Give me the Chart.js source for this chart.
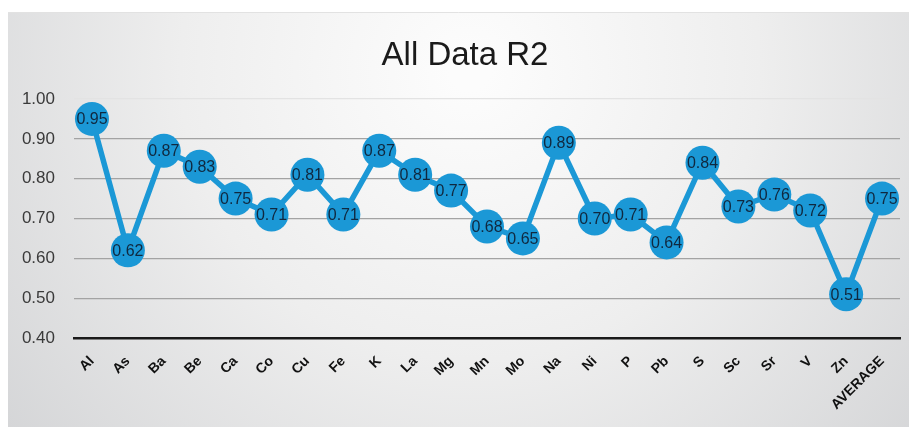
<!DOCTYPE html>
<html><head><meta charset="utf-8">
<script src="https://cdn.jsdelivr.net/npm/chart.js@4/dist/chart.umd.min.js"></script>
<style>html,body{margin:0;padding:0;background:#fff;}#wrap{width:909px;height:427px;position:relative;}</style>
</head><body><div id="wrap"><canvas id="c" width="909" height="427"></canvas></div>
<script>
const categories = ["Al","As","Ba","Be","Ca","Co","Cu","Fe","K","La","Mg","Mn","Mo","Na","Ni","P","Pb","S","Sc","Sr","V","Zn","AVERAGE"];
const r2Values = [0.95,0.62,0.87,0.83,0.75,0.71,0.81,0.71,0.87,0.81,0.77,0.68,0.65,0.89,0.70,0.71,0.64,0.84,0.73,0.76,0.72,0.51,0.75];
const yTicks = [0.40,0.50,0.60,0.70,0.80,0.90,1.00];
const chartTitle = "All Data R2";

const BLUE = '#1b98d6';

const bgPlugin = {
  id:'bg',
  beforeDraw(chart){
    const ctx = chart.ctx;
    ctx.save();
    ctx.fillStyle = '#ffffff';
    ctx.fillRect(0,0,chart.width,chart.height);
    const g = ctx.createRadialGradient(470,70,20,470,70,620);
    g.addColorStop(0,'#fcfcfc');
    g.addColorStop(0.45,'#eeeeee');
    g.addColorStop(1,'#d2d3d5');
    ctx.fillStyle = g;
    ctx.fillRect(8,12,chart.width-8,chart.height-12);
    ctx.strokeStyle = '#e2e2e2';
    ctx.lineWidth = 1;
    ctx.beginPath(); ctx.moveTo(8,12.5); ctx.lineTo(chart.width,12.5); ctx.stroke();
    ctx.restore();
  },
  afterDraw(chart){
    const ctx = chart.ctx;
    ctx.save();
    ctx.font = '33px "Liberation Sans", Arial, sans-serif';
    ctx.fillStyle = '#1a1a1a';
    ctx.textAlign = 'center';
    ctx.textBaseline = 'alphabetic';
    ctx.fillText(chartTitle, 465, 65);
    ctx.restore();
  }
};

const labelPlugin = {
  id:'vlabels',
  afterDatasetsDraw(chart){
    const ctx = chart.ctx;
    const meta = chart.getDatasetMeta(0);
    ctx.save();
    ctx.font = '16px "Liberation Sans", Arial, sans-serif';
    ctx.fillStyle = '#10283f';
    ctx.textAlign = 'center';
    ctx.textBaseline = 'middle';
    meta.data.forEach((pt,i)=>{
      ctx.fillText(r2Values[i].toFixed(2), pt.x, pt.y+1);
    });
    ctx.restore();
  }
};

new Chart(document.getElementById('c'), {
  type:'line',
  data:{
    labels: categories,
    datasets:[{
      data: r2Values,
      borderColor: BLUE,
      backgroundColor: BLUE,
      borderWidth: 5.5,
      pointRadius: 17,
      pointHoverRadius: 17,
      pointBackgroundColor: BLUE,
      pointBorderWidth: 0,
      tension: 0,
      fill: false,
      clip: false
    }]
  },
  options:{
    responsive:false,
    animation:false,
    events:[],
    layout:{autoPadding:false, padding:{left:0,right:9,top:99,bottom:0}},
    plugins:{
      legend:{display:false},
      tooltip:{enabled:false},
      title:{display:false}
    },
    scales:{
      x:{
        type:'category',
        offset:true,
        grid:{display:false, drawTicks:false},
        border:{display:true, color:'#1a1a1a', width:2.5},
        ticks:{
          autoSkip:false, minRotation:45, maxRotation:45, padding:15,
          color:'#111',
          font:{family:'"Liberation Sans", Arial, sans-serif', size:14, weight:'bold'}
        },
        afterFit(s){ s.height = 89; s.paddingRight = 0; s.paddingLeft = 0; }
      },
      y:{
        min:0.40, max:1.00,
        afterBuildTicks(s){ s.ticks = yTicks.map(v=>({value:v})); },
        grid:{
          drawTicks:false,
          color:(c)=> (c.tick && Math.abs(c.tick.value-1.0)<1e-6) ? '#e3e3e3' : '#a3a3a3',
          lineWidth:1.2
        },
        border:{display:false},
        ticks:{
          padding:19,
          color:'#3a3a3a',
          font:{family:'"Liberation Sans", Arial, sans-serif', size:17},
          callback:(v)=> Number(v).toFixed(2)
        },
        afterFit(s){ s.width = 74; }
      }
    }
  },
  plugins:[bgPlugin,labelPlugin]
});
</script>
</body></html>
